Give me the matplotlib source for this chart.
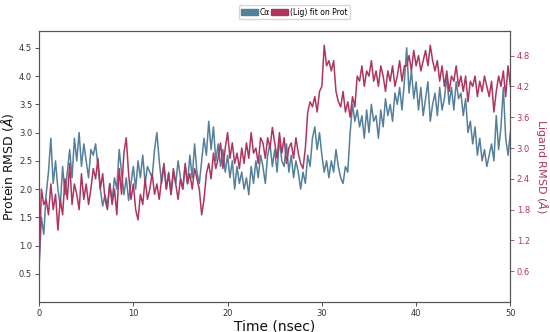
import numpy as np
import matplotlib
matplotlib.use("Agg")
import matplotlib.pyplot as plt
from matplotlib.patches import Patch

time_step = 0.25
protein_rmsd = [
    0.6, 1.5, 1.2, 1.9,
    2.3, 2.9, 2.1, 2.5,
    2.0, 1.7, 2.4, 1.9,
    2.3, 2.7, 2.2, 2.9,
    2.5, 3.0, 2.4, 2.8,
    2.5, 2.2, 2.7, 2.6,
    2.8, 2.4, 2.0, 1.7,
    1.9, 1.7, 2.1, 1.8,
    2.2, 2.0, 2.7, 2.3,
    1.9, 2.2, 1.8, 2.1,
    2.4, 2.0, 2.5, 2.2,
    2.6, 2.1, 2.4, 2.3,
    2.2, 2.7, 3.0, 2.5,
    2.1, 2.4, 2.0, 2.3,
    1.9, 2.3, 2.1, 2.5,
    2.2, 2.0, 2.4, 2.1,
    2.6, 2.2, 2.8, 2.3,
    2.1, 2.5, 2.9, 2.6,
    3.2, 2.7, 3.1, 2.5,
    2.8, 2.4, 2.7, 2.3,
    2.6, 2.2, 2.5, 2.0,
    2.4, 2.1, 2.3, 2.0,
    2.2, 1.9, 2.4, 2.1,
    2.5, 2.2, 2.6, 2.4,
    2.1, 2.6, 2.8, 2.4,
    2.7, 2.3, 2.9, 2.5,
    2.4, 2.8, 2.3, 2.6,
    2.2, 2.5, 2.3, 2.0,
    2.3, 2.1, 2.6, 2.4,
    2.9, 3.1, 2.7, 3.0,
    2.6, 2.3, 2.5, 2.2,
    2.5, 2.3, 2.7, 2.4,
    2.2, 2.1, 2.4, 2.3,
    3.0, 3.5, 3.2, 3.4,
    3.1, 3.3, 2.9, 3.4,
    3.0, 3.5, 3.2, 3.3,
    2.9, 3.4, 3.1, 3.6,
    3.3, 3.5, 3.2, 3.7,
    3.5, 3.8, 3.4, 3.9,
    4.5, 3.7, 4.1, 3.6,
    3.9, 3.4, 3.8, 3.3,
    3.6, 3.9, 3.2, 3.5,
    3.7, 3.3, 3.8, 3.4,
    3.6, 4.0, 3.5, 3.8,
    3.4, 3.9, 3.6, 3.7,
    3.3, 3.6, 3.0, 3.2,
    2.8, 3.1, 2.6, 2.9,
    2.5, 2.7, 2.4, 2.6,
    2.8, 2.5, 3.3, 2.7,
    3.1, 3.8, 2.9, 2.6,
    3.0,
]
ligand_rmsd = [
    0.7, 2.2, 1.9, 2.0,
    1.7, 2.3, 1.8, 2.1,
    1.4, 2.0, 1.7, 2.4,
    2.0, 2.7, 1.9, 2.3,
    2.1, 1.8, 2.5, 2.0,
    2.3, 1.9, 2.2, 2.6,
    2.4, 2.8, 2.2, 2.5,
    2.0, 1.8, 2.3, 1.9,
    2.2, 1.7, 2.6, 2.1,
    2.9, 3.2, 2.5, 2.0,
    2.3, 1.8, 1.6, 2.1,
    1.9, 2.4, 2.0, 2.2,
    2.5, 2.1, 2.3, 2.0,
    2.4, 2.7, 2.2, 2.5,
    2.1, 2.6, 2.3, 2.0,
    2.4, 2.2, 2.7, 2.3,
    2.5, 2.2, 2.6, 2.4,
    2.2, 1.7, 2.0, 2.5,
    2.7, 2.4, 2.9, 2.6,
    2.8, 3.1, 2.6, 3.0,
    3.3, 2.8, 3.1, 2.7,
    2.9, 2.6, 3.0, 2.7,
    3.1, 2.8, 3.3, 2.9,
    3.0, 2.7, 3.2, 3.1,
    2.8, 3.2, 3.0, 3.4,
    3.1, 2.8, 3.3, 2.9,
    3.2, 2.7, 3.0, 3.1,
    2.8, 3.2, 2.9, 2.7,
    2.6, 3.0, 3.7, 3.9,
    3.8, 4.0, 3.7, 4.1,
    4.2, 5.0, 4.6, 4.7,
    4.5, 4.7, 4.1, 3.9,
    3.8, 4.1, 3.7, 3.9,
    3.6, 4.0, 3.8, 4.4,
    4.3, 4.6, 4.2, 4.5,
    4.4, 4.7, 4.3, 4.5,
    4.2, 4.6, 4.4, 4.1,
    4.5, 4.3, 4.6, 4.2,
    4.4, 4.7, 4.3, 4.6,
    4.6, 4.8, 4.5, 4.9,
    4.6, 4.8, 4.5, 4.7,
    4.9, 4.6, 5.0, 4.7,
    4.5, 4.7, 4.3, 4.6,
    4.2, 4.5, 4.1, 4.4,
    4.3, 4.6, 4.2, 4.4,
    4.1, 4.4, 3.9, 4.3,
    4.2, 4.4, 4.0, 4.3,
    4.1, 4.4, 4.2, 4.0,
    4.3, 3.7, 4.1, 4.4,
    4.2, 4.5, 4.0, 4.6,
    4.2,
]
x_ticks = [0, 10, 20, 30, 40, 50]
left_ticks = [0.5, 1.0, 1.5, 2.0, 2.5, 3.0, 3.5, 4.0, 4.5]
right_ticks = [0.6, 1.2, 1.8, 2.4, 3.0, 3.6, 4.2, 4.8]
legend_labels = ["C\u03b1", "(Lig) fit on Prot"]

time = np.arange(len(protein_rmsd)) * time_step

blue = "#557f9b"
red = "#ad3560"

fig = plt.figure(figsize=(5.5, 3.32), dpi=100)
ax = fig.add_axes([0.071, 0.09, 0.857, 0.817])
ax2 = ax.twinx()

ax.plot(time, protein_rmsd, color=blue, lw=1.1, zorder=2)
ax2.plot(time, ligand_rmsd, color=red, lw=1.1, zorder=3)

ax.set_xlim(0, 50)
ax.set_ylim(0, 4.8)
ax2.set_ylim(0, 5.28)
ax.set_xticks(x_ticks)
ax.set_yticks(left_ticks)
ax2.set_yticks(right_ticks)
ax.set_yticklabels([f"{v:.1f}" for v in left_ticks])
ax2.set_yticklabels([f"{v:.1f}" for v in right_ticks])

for a in (ax, ax2):
    for s in a.spines.values():
        s.set_color("#555555")
        s.set_linewidth(0.8)
ax.tick_params(axis="both", labelsize=6, colors="#333333", length=3, width=0.6, pad=2)
ax2.tick_params(axis="y", labelsize=6, colors=red, length=3, width=0.6, pad=1.5)

ax.set_xlabel("Time (nsec)", fontsize=10, color="#111111", labelpad=1)
ax.set_ylabel(r"Protein RMSD ($\AA$)", fontsize=9, color="#111111", labelpad=2)
fig.text(0.985, 0.5, r"Ligand RMSD ($\AA$)", fontsize=8, color=red,
         rotation=270, ha="center", va="center")

handles = [Patch(color=blue), Patch(color=red)]
fig.legend(handles, legend_labels, loc="upper center", bbox_to_anchor=(0.535, 0.995),
           ncol=2, fontsize=5.5, frameon=True, handlelength=2.2, handleheight=0.8,
           columnspacing=0.2, handletextpad=0.2, borderpad=0.3, fancybox=True,
           edgecolor="#cccccc")

fig.savefig("out.png", dpi=100)
